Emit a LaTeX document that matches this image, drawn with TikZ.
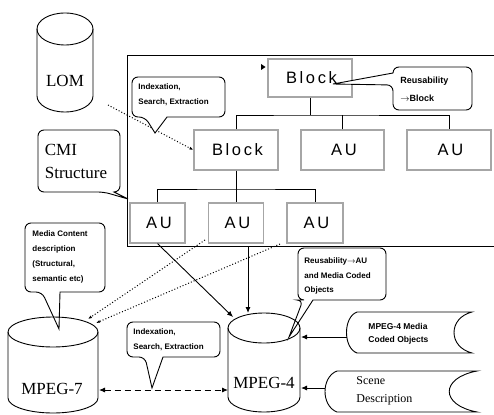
\documentclass[tikz,border=0pt]{standalone}
\usepackage{fontspec}
\setmainfont{Liberation Serif}
\setsansfont{Liberation Sans}
\newfontfamily\boxfont[LetterSpace=16]{Liberation Sans}
\usetikzlibrary{arrows.meta}
\begin{document}
\begin{tikzpicture}[x=1pt,y=1pt,yscale=-1,
  line width=0.9pt,
  box/.style={draw=gray!70, line width=1.2pt, fill=white, inner sep=0pt,
    font=\boxfont\fontsize{16.5}{16}\selectfont},
  callout/.style={draw, fill=white, line width=0.9pt},
  ctext/.style={font=\sffamily\bfseries\fontsize{8}{15}\selectfont, align=left, anchor=west, inner sep=0pt},
  serif/.style={font=\rmfamily\fontsize{17}{23}\selectfont, inner sep=0pt, align=left},
  arr/.style={-{Latex[length=6pt,width=5pt]}},
  dotarr/.style={dotted, line width=1pt, -{Latex[length=4pt,width=3pt]}},
]
\useasboundingbox (0,0) rectangle (494,414);

% frame
\draw (494,55) -- (127,55) -- (127,246) -- (494,246);

% boxes
\node[box, minimum width=84pt, minimum height=38pt] (b0) at (310,78) {\hspace{3pt}Block};
\node[box, minimum width=84pt, minimum height=40pt] (b1) at (236,150) {\hspace{3pt}Block};
\node[box, minimum width=83pt, minimum height=40pt] (au1) at (342.5,150) {\hspace{3pt}AU};
\node[box, minimum width=84pt, minimum height=40pt] (au2) at (449,150) {\hspace{3pt}AU};
\node[box, minimum width=55pt, minimum height=40pt] (au3a) at (157.5,223) {\hspace{3pt}AU};
\node[box, minimum width=55pt, minimum height=40pt] (au3b) at (236,223) {\hspace{3pt}AU};
\node[box, minimum width=56pt, minimum height=40pt] (au3c) at (315,223) {\hspace{3pt}AU};

% tree
\coordinate (j1) at (310,115);
\coordinate (j2) at (236,189);
\draw (b0.south) -- (j1);
\draw (b1.north) |- (j1) -| (au2.north);
\draw (au1.north) -- (au1.north |- j1);
\draw (b1.south) -- (au3b.north);
\draw (au3a.north) |- (j2) -| (au3c.north);

% small marker near top block
\fill (261,64) -- (265.5,67) -- (261,70) -- cycle;

% LOM cylinder
\draw (37,29) -- (37,96) arc[start angle=180,end angle=0,x radius=28pt,y radius=16pt] -- (93,29);
\draw (65,29) ellipse [x radius=28pt, y radius=16pt];
\node[serif] (lom) at (65,81) {LOM};

% dotted connectors
\coordinate (lomout) at (108,105);
\draw[dotarr] (lomout) -- (b1.west);
\coordinate (d1s) at (205,240);
\coordinate (d2s) at (280,244);
\coordinate (m7a) at (88,319);
\coordinate (m7b) at (96,323);
\draw[dotarr] (d1s) -- (m7a);
\draw[dotarr] (d2s) -- (m7b);

% callouts
\draw[callout] (145,117) -- (155,133) -- (167,117) [rounded corners=6pt] -| (225,77) -| (132,117) -- cycle;
\node[ctext] (c1) at (138,95) {Indexation,\\Search, Extraction};

\draw[callout] (393,85) -- (333,84) -- (393,73) [rounded corners=6pt] |- (472,67) |- (393,110) -- cycle;
\node[ctext, font=\sffamily\bfseries\fontsize{9}{18}\selectfont] (c2) at (400,89) {Reusability\\$\rightarrow$Block};

\draw[callout] (104,192) -- (128,199) -- (114,192) [rounded corners=6pt] -| (120,130) -| (38,192) -- cycle;
\node[serif] (cmi) at (76,161) {CMI\\Structure};

\draw[callout] (42,292) -- (59,329) -- (60,292) [rounded corners=6pt] -| (105,223) -| (25,292) -- cycle;
\node[ctext] (c4) at (32,257) {Media Content\\description\\(Structural,\\semantic etc)};

\draw[callout] (303,300) -- (289,337) -- (313,300) [rounded corners=6pt] -| (386,248) -| (298,300) -- cycle;
\node[ctext, font=\sffamily\bfseries\fontsize{8}{14.5}\selectfont] (c5) at (304,276) {Reusability$\rightarrow$AU\\and Media Coded\\Objects};

\draw[callout] (145,357) -- (152,388) -- (163,357) [rounded corners=6pt] -| (220,322) -| (127,357) -- cycle;
\node[ctext] (c6) at (133,340) {Indexation,\\Search, Extraction};

% MPEG-7 cylinder
\draw (8,332) -- (8,398) arc[start angle=180,end angle=0,x radius=45pt,y radius=15pt] -- (98,332);
\draw (53,332) ellipse [x radius=45pt, y radius=15pt];
\node[serif] (m7) at (52,389) {MPEG-7};

% MPEG-4 cylinder
\draw (228,328) -- (228,397) arc[start angle=180,end angle=0,x radius=36pt,y radius=15pt] -- (300,328);
\draw (264,328) ellipse [x radius=36pt, y radius=15pt];
\node[serif] (m4) at (264,383) {MPEG-4};

% stored data shapes
\draw (357,312) -- (472,312) .. controls (448,318) and (448,347) .. (472,353) -- (357,353) .. controls (343,348) and (343,317) .. (357,312);
\node[ctext, font=\sffamily\bfseries\fontsize{8.5}{13}\selectfont] (md) at (368,334) {MPEG-4 Media\\Coded Objects};
\draw (337,371) -- (477,371) .. controls (440,378) and (440,405) .. (477,412) -- (337,412) .. controls (321,406) and (321,377) .. (337,371);
\node[serif, font=\rmfamily\fontsize{12}{18}\selectfont, anchor=west] (sd) at (356,391) {Scene\\Description};

% arrows
\coordinate (m4t1) at (233,317);
\coordinate (s2) at (248,246);
\coordinate (m4t2) at (248,313);
\coordinate (mdw) at (347,337);
\coordinate (m4r1) at (301,337);
\coordinate (sdw) at (325,388);
\coordinate (m4r2) at (301,388);
\coordinate (m7r) at (99,390);
\coordinate (m4l) at (228,390);
\draw[arr] (au3a.south) -- (m4t1);
\draw[arr] (s2) -- (m4t2);
\draw[arr] (mdw) -- (m4r1);
\draw[arr] (sdw) -- (m4r2);
\draw[dashed, dash pattern=on 6pt off 4pt, {Latex[length=6pt,width=5pt]}-{Latex[length=6pt,width=5pt]}] (m7r) -- (m4l);
\end{tikzpicture}
\end{document}
